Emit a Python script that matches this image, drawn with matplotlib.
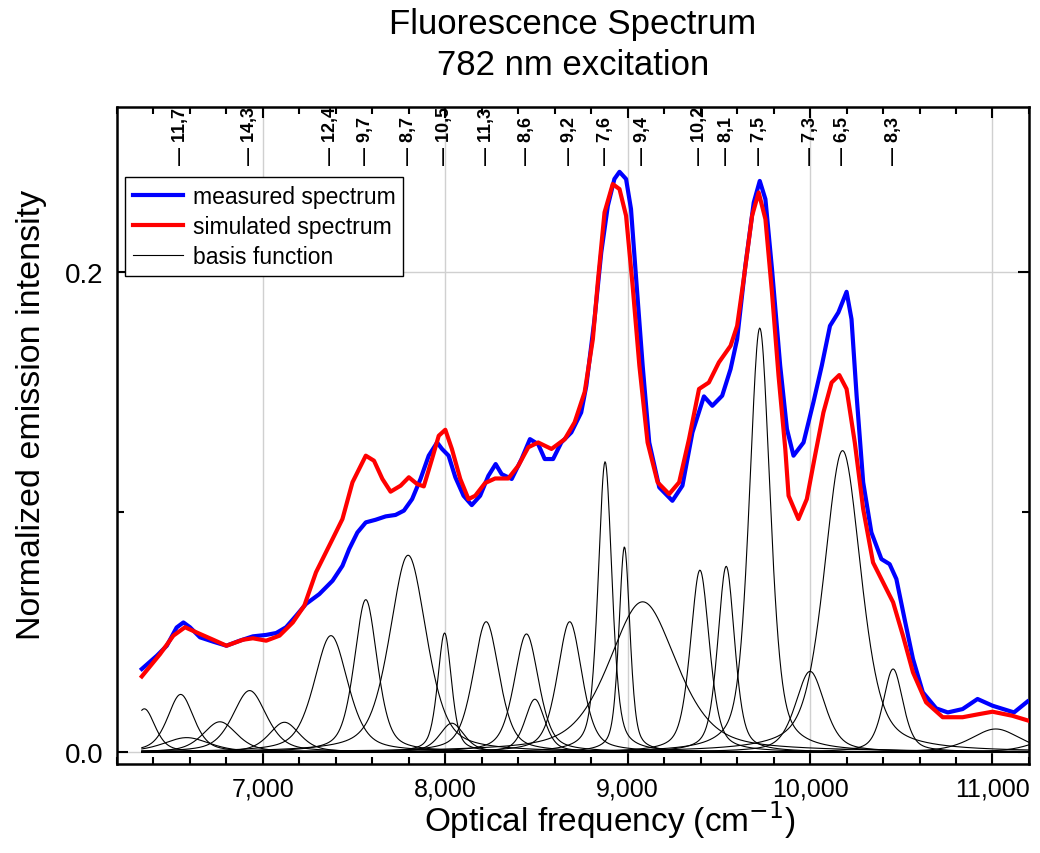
import numpy as np
import matplotlib
matplotlib.use('Agg')
import matplotlib.pyplot as plt
from matplotlib.ticker import MultipleLocator, FuncFormatter

plt.rcParams['font.family'] = ['Liberation Sans', 'DejaVu Sans']

# measured spectrum (blue)
meas_x = [6336, 6418, 6473, 6527, 6564, 6600, 6655, 6727, 6800, 6873, 6945, 7018, 7073, 7127,
          7182, 7236, 7309, 7382, 7436, 7473, 7518, 7564, 7618, 7673, 7727, 7773, 7818, 7864,
          7909, 7955, 7982, 8018, 8055, 8100, 8145, 8191, 8236, 8276, 8309, 8364, 8418, 8464,
          8509, 8545, 8591, 8636, 8691, 8745, 8773, 8818, 8855, 8891, 8927, 8955, 8991, 9018,
          9045, 9082, 9118, 9173, 9245, 9300, 9355, 9418, 9464, 9518, 9564, 9600, 9645, 9691,
          9724, 9755, 9791, 9836, 9873, 9909, 9964, 10018, 10064, 10109, 10155, 10200, 10227,
          10255, 10291, 10336, 10391, 10436, 10473, 10518, 10564, 10618, 10691, 10755, 10836,
          10918, 11000, 11118, 11191]
meas_y = [.0346, .0401, .0443, .0519, .0540, .0520, .0478, .0460, .0443, .0464, .0482, .0488,
          .0496, .0520, .0568, .0617, .0658, .0714, .0776, .0846, .0915, .0957, .0968, .0982,
          .0988, .1006, .1054, .1138, .1235, .1290, .1263, .1235, .1145, .1068, .1029, .1068,
          .1151, .1200, .1158, .1138, .1221, .1304, .1283, .1221, .1221, .1290, .1332, .1415,
          .1526, .1804, .2082, .2276, .2388, .2418, .2388, .2263, .1985, .1610, .1290, .1103,
          .1047, .1110, .1332, .1482, .1443, .1485, .1596, .1721, .2026, .2290, .2380, .2304,
          .2013, .1610, .1346, .1235, .1290, .1457, .1610, .1776, .1832, .1918, .1804, .1485,
          .1124, .0915, .0804, .0783, .0721, .0554, .0388, .0249, .0182, .0165, .0179, .0221,
          .0193, .0165, .0210]

# simulated spectrum (red)
sim_x = [6336, 6436, 6509, 6573, 6655, 6727, 6800, 6891, 6945, 7018, 7091, 7164, 7227, 7291,
         7382, 7436, 7491, 7564, 7609, 7655, 7700, 7755, 7800, 7845, 7882, 7927, 7964, 8000,
         8036, 8082, 8127, 8164, 8218, 8273, 8345, 8400, 8455, 8509, 8582, 8655, 8709, 8764,
         8809, 8836, 8873, 8918, 8955, 8991, 9027, 9064, 9109, 9164, 9227, 9282, 9336, 9391,
         9445, 9500, 9564, 9600, 9636, 9682, 9718, 9755, 9791, 9827, 9864, 9882, 9936, 9982,
         10027, 10073, 10118, 10160, 10200, 10245, 10291, 10345, 10400, 10455, 10509, 10564,
         10636, 10727, 10836, 10927, 11000, 11109, 11200]
sim_y = [.0315, .0408, .0485, .0520, .0492, .0468, .0443, .0468, .0474, .0464, .0485, .0540,
         .0610, .0749, .0888, .0971, .1124, .1235, .1214, .1138, .1085, .1110, .1145, .1117,
         .1107, .1221, .1318, .1343, .1263, .1138, .1054, .1068, .1121, .1140, .1140, .1193,
         .1270, .1290, .1263, .1304, .1374, .1500, .1721, .1957, .2249, .2367, .2346, .2235,
         .1943, .1610, .1290, .1124, .1075, .1124, .1304, .1513, .1540, .1624, .1693, .1776,
         .1971, .2235, .2332, .2221, .1915, .1568, .1263, .1068, .0971, .1054, .1235, .1415,
         .1540, .1571, .1513, .1290, .1013, .0790, .0707, .0624, .0485, .0332, .0207, .0145,
         .0145, .0158, .0168, .0151, .0130]

# basis functions: centre (cm-1), height, half width; labelled ones first
peak_labels = ['11,7', '14,3', '12,4', '9,7', '8,7', '10,5', '11,3', '8,6', '9,2',
               '7,6', '9,4', '10,2', '8,1', '7,5', '7,3', '6,5', '8,3']
peak_centers = [6549, 6927, 7373, 7564, 7796, 7996, 8224, 8445, 8682,
                8876, 9082, 9396, 9540, 9724, 10000, 10178, 10455]
peak_heights = [.024, .0256, .0485, .0635, .082, .0496, .0543, .0492, .0543,
                .121, .0626, .0758, .0774, .1767, .0336, .1256, .0346]
peak_widths = [85, 110, 110, 75, 120, 45, 85, 80, 80,
               45, 220, 62, 55, 68, 95, 120, 65]
extra_centers = [6350, 6582, 6764, 7118, 8036, 8491, 8982, 11018, 11350]
extra_heights = [.018, .006, .0126, .0124, .012, .022, .0855, .0096, .006]
extra_widths = [70, 150, 110, 100, 80, 65, 36, 160, 150]


def pvoigt(x, c, h, w, eta=0.5):
    u = (x - c) / w
    return h * (eta / (1 + u ** 2) + (1 - eta) * np.exp(-np.log(2) * u ** 2))


fig = plt.figure(figsize=(10.4, 8.54), dpi=100)
ax = fig.add_axes([0.1125, 0.1042, 0.8769, 0.7693])

xs = np.linspace(6336, 11200, 1200)
first = True
for c, h, w in zip(peak_centers + extra_centers, peak_heights + extra_heights,
                   peak_widths + extra_widths):
    ax.plot(xs, pvoigt(xs, c, h, w), color='k', lw=0.8,
            label='basis function' if first else None, zorder=2)
    first = False

ax.plot(meas_x, meas_y, color='#0000ff', lw=3, label='measured spectrum', zorder=3,
        solid_joinstyle='round')
ax.plot(sim_x, sim_y, color='#ff0000', lw=3, label='simulated spectrum', zorder=4,
        solid_joinstyle='round')

# peak labels along the top
for c, lab in zip(peak_centers, peak_labels):
    ax.text(c, 0.913, '\u2014 ' + lab, transform=ax.get_xaxis_transform(), rotation=90,
            ha='center', va='bottom', fontsize=13, fontweight='bold')

ax.set_xlim(6200, 11200)
ax.set_ylim(-0.005, 0.2688)
ax.xaxis.set_major_locator(MultipleLocator(1000))
ax.xaxis.set_minor_locator(MultipleLocator(200))
ax.yaxis.set_major_locator(MultipleLocator(0.2))
ax.yaxis.set_minor_locator(MultipleLocator(0.1))
ax.xaxis.set_major_formatter(FuncFormatter(lambda v, p: f'{v:,.0f}'))
ax.yaxis.set_major_formatter(FuncFormatter(lambda v, p: f'{v:.1f}'))
ax.tick_params(which='both', direction='in', top=True, right=True, width=1.5)
ax.tick_params(which='major', length=8)
ax.tick_params(axis='x', which='major', pad=9, labelsize=18)
ax.tick_params(axis='y', which='major', pad=10, labelsize=20)
ax.tick_params(which='minor', length=5)
for s in ax.spines.values():
    s.set_linewidth(1.8)
ax.grid(True, which='major', color='#d0d0d0', lw=1)
ax.set_axisbelow(True)

ax.set_xlabel('Optical frequency (cm$^{-1}$)', fontsize=24)
ax.xaxis.set_label_coords(0.54, -0.052)
ax.set_ylabel('Normalized emission intensity', fontsize=24.5)
ax.yaxis.set_label_coords(-0.077, 0.533)

fig.text(0.551, 0.947, 'Fluorescence Spectrum\n782 nm excitation', ha='center', va='center',
         fontsize=25, linespacing=1.3)

handles, labels = ax.get_legend_handles_labels()
order = [labels.index('measured spectrum'), labels.index('simulated spectrum'),
         labels.index('basis function')]
leg = ax.legend([handles[i] for i in order], [labels[i] for i in order],
                loc='upper left', bbox_to_anchor=(0.0088, 0.893), borderaxespad=0,
                fontsize=16.5, fancybox=False, framealpha=1, edgecolor='k',
                handlelength=2.2, handletextpad=0.4, labelspacing=0.3, borderpad=0.35)
leg.get_frame().set_linewidth(1)

fig.savefig('out.png', dpi=100)
